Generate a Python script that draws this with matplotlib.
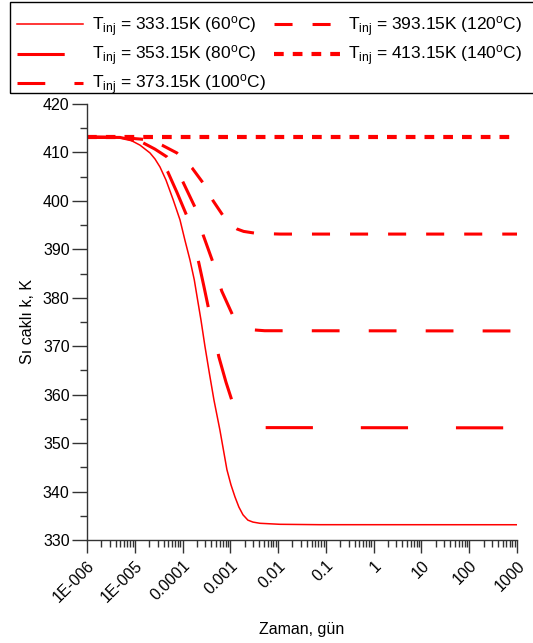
import matplotlib
matplotlib.use("Agg")
import matplotlib.pyplot as plt
from matplotlib.patches import Rectangle
from matplotlib.ticker import FixedLocator, LogLocator, MultipleLocator, NullFormatter

plt.rcParams['font.family'] = ['Liberation Sans', 'DejaVu Sans']
plt.rcParams['mathtext.default'] = 'regular'
plt.rcParams['lines.scale_dashes'] = False

# temperature profiles (K) versus time (days), one per injection temperature
t_333 = [1e-6, 1.87e-6, 3.03e-6, 4.9e-6, 7.94e-6, 1.29e-5, 2.08e-5, 2.65e-5, 3.37e-5,
         4.5e-5, 6.38e-5, 8.83e-5, 1.12e-4, 1.43e-4, 1.76e-4, 2.07e-4, 2.43e-4,
         2.94e-4, 3.66e-4, 4.54e-4, 6.05e-4, 8.49e-4, 1.03e-3, 1.25e-3, 1.51e-3,
         1.84e-3, 2.33e-3, 2.97e-3, 4.16e-3, 1.09e-2, 7.5e-2, 1000]
T_333 = [413.15, 413.15, 413.1, 413.0, 412.6, 411.5, 409.9, 408.65, 407.0,
         404.3, 400.2, 396.1, 391.9, 387.8, 383.7, 379.5, 375.4,
         370.0, 364.3, 358.9, 352.7, 344.5, 341.4, 338.9, 336.8,
         335.2, 334.1, 333.7, 333.45, 333.24, 333.16, 333.15]

t_353 = [1e-6, 4.9e-6, 1.29e-5, 2.63e-5, 4.9e-5, 7.6e-5, 1.23e-4, 2.19e-4, 2.82e-4,
         3.55e-4, 5.75e-4, 8.1e-4, 1.12e-3, 1.45e-3, 1.74e-3, 2.24e-3, 2.82e-3,
         3.8e-3, 5.25e-3, 1000]
T_353 = [413.15, 413.1, 412.2, 410.5, 406.0, 401.8, 396.9, 387.2, 382.2,
         377.5, 367.8, 362.6, 358.3, 356.6, 355.2, 354.4, 353.7,
         353.35, 353.2, 353.15]

t_373 = [1e-6, 4.9e-6, 1.48e-5, 2.63e-5, 4.68e-5, 7.2e-5, 1.02e-4, 1.82e-4, 2.69e-4,
         4.37e-4, 6.6e-4, 1.12e-3, 1.45e-3, 1.74e-3, 2.24e-3, 2.82e-3, 3.8e-3,
         5.25e-3, 1000]
T_373 = [413.15, 413.1, 412.0, 410.7, 409.1, 406.8, 403.9, 398.7, 393.0,
         387.2, 381.4, 376.4, 375.0, 374.2, 373.7, 373.4, 373.3,
         373.2, 373.15]

t_393 = [1e-6, 4.9e-6, 2.09e-5, 3.72e-5, 7.6e-5, 1.58e-4, 2.69e-4, 4.37e-4, 7.1e-4,
         9.8e-4, 1.38e-3, 1.9e-3, 3.47e-3, 1.1e-2, 1000]
T_393 = [413.15, 413.1, 412.6, 411.5, 409.9, 406.8, 403.7, 400.0, 396.9,
         395.2, 394.2, 393.7, 393.3, 393.15, 393.15]

t_413 = [1e-6, 1000]
T_413 = [413.15, 413.15]

labels = [r'T$_{inj}$ = 333.15K (60$^{o}$C)',
          r'T$_{inj}$ = 353.15K (80$^{o}$C)',
          r'T$_{inj}$ = 373.15K (100$^{o}$C)',
          r'T$_{inj}$ = 393.15K (120$^{o}$C)',
          r'T$_{inj}$ = 413.15K (140$^{o}$C)']

x_ticks = [1e-6, 1e-5, 1e-4, 1e-3, 1e-2, 1e-1, 1, 10, 100, 1000]
x_ticklabels = ['1E-006', '1E-005', '0.0001', '0.001', '0.01', '0.1', '1', '10', '100', '1000']

W, H = 533, 643
fig = plt.figure(figsize=(W / 100, H / 100), dpi=100)
ax = fig.add_axes([87 / W, 1 - 540 / H, 430 / W, 436 / H])

red = '#ff0000'
ax.plot(t_333, T_333, color=red, lw=1.1, label=labels[0])
ax.plot(t_353, T_353, color=red, lw=2.2, dashes=(34, 34.5), label=labels[1])
ax.plot(t_373, T_373, color=red, lw=2.2, dashes=(20, 21), label=labels[2])
ax.plot(t_393, T_393, color=red, lw=2.2, dashes=(13, 14.4), label=labels[3])
ax.plot(t_413, T_413, color=red, lw=3.0, dashes=(7, 6.5), label=labels[4])

ax.set_xscale('log')
ax.set_xlim(1e-6, 1000)
ax.set_ylim(330, 420)
ax.xaxis.set_major_locator(FixedLocator(x_ticks))
ax.set_xticklabels(x_ticklabels, rotation=45, ha='right', va='top', rotation_mode='anchor')
ax.xaxis.set_minor_locator(LogLocator(base=10, subs=range(2, 10), numticks=100))
ax.xaxis.set_minor_formatter(NullFormatter())
ax.yaxis.set_major_locator(MultipleLocator(10))
ax.yaxis.set_minor_locator(MultipleLocator(5))

for side in ['top', 'right']:
    ax.spines[side].set_visible(False)
for side in ['left', 'bottom']:
    ax.spines[side].set_color('#333333')
    ax.spines[side].set_linewidth(1.0)
ax.tick_params(axis='both', which='both', direction='out', color='#333333', width=1.0,
               labelsize=11.5)
ax.tick_params(axis='y', which='major', length=10.5, pad=2)
ax.tick_params(axis='y', which='minor', length=5)
ax.tick_params(axis='x', which='major', length=9, pad=4)
ax.tick_params(axis='x', which='minor', length=5)

ax.set_xlabel('Zaman, gün', fontsize=11.5, labelpad=12)
ax.set_ylabel('Sı caklı k, K', fontsize=11.5, labelpad=6)

# legend box runs past the right edge of the figure
fig.legend(loc='upper left', bbox_to_anchor=(10 / W, 1 - 7 / H), ncol=2,
           fontsize=12.5, frameon=False, borderaxespad=0, handlelength=3.8,
           handletextpad=0.5, columnspacing=0.45, labelspacing=0.28, borderpad=0.4)
fig.patches.append(Rectangle((10 / W, 1 - 93 / H), 1.0, 91 / H, transform=fig.transFigure,
                             fill=False, edgecolor='black', linewidth=1.0))

fig.savefig('out.png', dpi=100)
